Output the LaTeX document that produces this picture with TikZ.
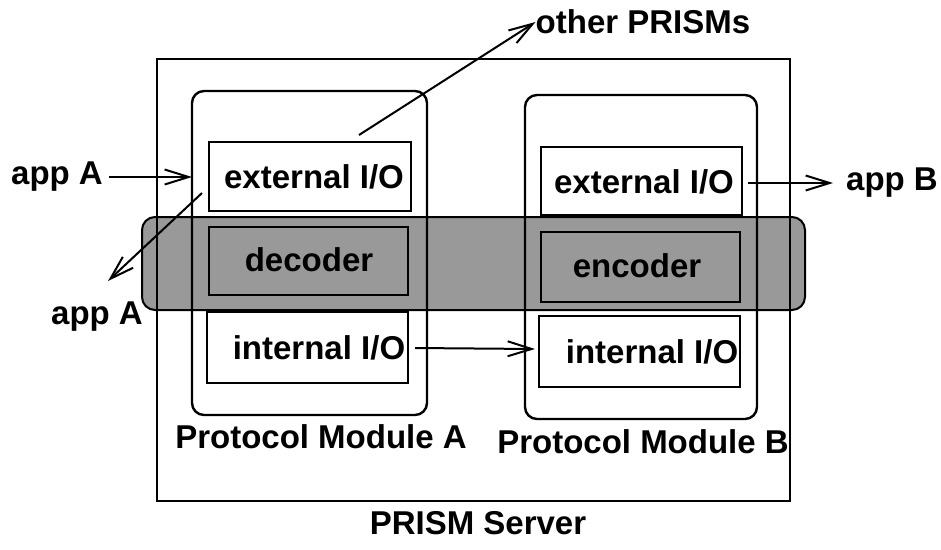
\documentclass[tikz,border=0pt]{standalone}
\usepackage{fontspec}
\setmainfont{Liberation Sans}
\usetikzlibrary{arrows.meta}
\begin{document}
\begin{tikzpicture}[x=1pt,y=-1pt,
  lbl/.style={font=\fontsize{33}{36}\selectfont\bfseries, inner sep=0pt, anchor=center},
  iobox/.style={draw, line width=2.6pt, inner sep=0pt},
  modbox/.style={draw, line width=2.4pt, rounded corners=12pt, inner sep=0pt},
  flow/.style={line width=2pt, -{Straight Barb[length=24pt,width=15pt,line width=2pt]}}]
\useasboundingbox (0,0) rectangle (941,549);
\fill[white] (0,0) rectangle (941,549);

% shaded codec band
\draw[line width=2pt, fill=black!40, rounded corners=13pt] (142,217) rectangle (805,310);

% server frame
\draw[line width=2.2pt] (157,59) rectangle (790,501);
\node[lbl] (srv) at (478,523) {PRISM Server};

% protocol modules
\draw[modbox] (192,91) rectangle (427,415);
\draw[modbox] (525,95) rectangle (757,419);
\node[lbl] (modAtxt) at (321,437) {Protocol Module A};
\node[lbl] (modBtxt) at (643,442) {Protocol Module B};
\coordinate (modAw) at (192,177);

% module A boxes
\draw[iobox] (209,142) rectangle (411,211);
\node[lbl] (extA) at (314,177) {external I/O};
\draw[iobox] (209,227) rectangle (408,295);
\node[lbl] (dec) at (309,260) {decoder};
\draw[iobox] (207,312) rectangle (408,383);
\node[lbl] (intA) at (319,348) {internal I/O};

% module B boxes
\draw[iobox] (541,147) rectangle (742,215);
\node[lbl] (extB) at (644,182) {external I/O};
\draw[iobox] (541,232) rectangle (740,302);
\node[lbl] (enc) at (637,266) {encoder};
\draw[iobox] (539,316) rectangle (740,387);
\node[lbl] (intB) at (652,352) {internal I/O};

% external endpoints
\node[lbl] (appAin) at (57,177) {app A};
\node[lbl] (appAout) at (97,317) {app A};
\node[lbl] (appB) at (892,183) {app B};
\node[lbl] (other) at (643,22) {other PRISMs};

\coordinate (extAtop) at (359,135);
\coordinate (extAleft) at (202,193);
\coordinate (appAoutTip) at (108,281);
\coordinate (extBout) at (748,183);
\coordinate (appBTip) at (833,183);
\coordinate (intAout) at (415,348);
\coordinate (intBin) at (535,349);

% connectors
\draw[flow] (appAin.east) ++(6,0) -- (modAw);
\draw[flow] (extAleft) -- (appAoutTip);
\draw[flow] (extAtop) -- (other.west);
\draw[flow] (extBout) -- (appBTip);
\draw[flow] (intAout) -- (intBin);
\end{tikzpicture}
\end{document}
